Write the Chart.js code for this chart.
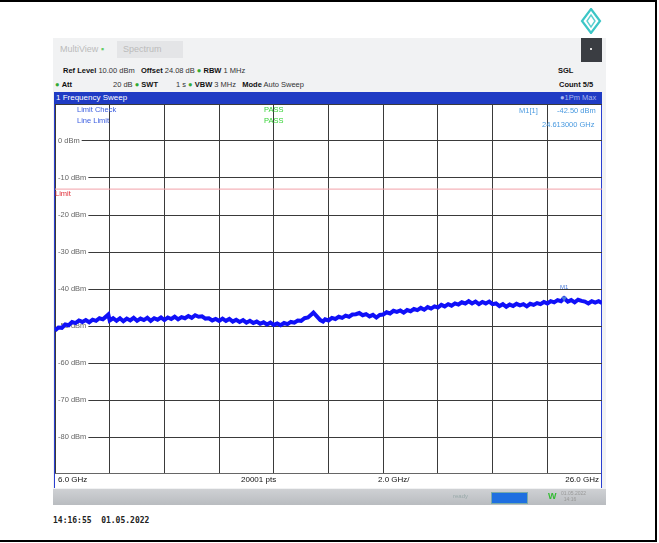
<!DOCTYPE html>
<html>
<head>
<meta charset="utf-8">
<script src="https://cdn.jsdelivr.net/npm/chart.js@4.4.1/dist/chart.umd.min.js"></script>
<style>
  html, body { margin: 0; padding: 0; background: #fff; }
  body { width: 659px; height: 543px; position: relative; overflow: hidden; font-family: "Liberation Sans", Arial, sans-serif; }
  .frame { position: absolute; left: -2px; top: 0; width: 657px; height: 538px; border-top: 2px solid #000; border-right: 2px solid #000; border-bottom: 2px solid #000; }
  .screen { position: absolute; left: 53px; top: 38px; width: 553px; height: 467px; background: #f1f2f3; }
  .abs { position: absolute; white-space: nowrap; }
  .tab { color: #bbb; font-size: 9px; }
  .info { font-size: 7.5px; color: #333; }
  .info b { font-weight: bold; color: #111; }
  .dot { color: #3a3; }
  .bar { position: absolute; left: 54px; top: 92px; width: 548px; height: 12px; background: #1f3bc4; }
  .plotbox { position: absolute; left: 54px; top: 104px; width: 546px; height: 383px; border-left: 1px solid #2a3fd0; border-right: 1px solid #2a3fd0; border-bottom: 1px solid #2a3fd0; background: #fff; }
  #wrap { position: absolute; left: 55px; top: 104px; width: 547px; height: 370px; }
  .btm { position: absolute; left: 55px; top: 473px; width: 546px; height: 14px; border-top: 1px solid #666; background: #fff; font-size: 8px; color: #111; }
  .status { position: absolute; left: 53px; top: 489px; width: 553px; height: 16px; background: linear-gradient(#cfd1d4, #b9bcc0); }
</style>
</head>
<body>
<div class="frame"></div>
<div class="screen"></div>

<svg class="abs" style="left:580px;top:8px" width="22" height="26" viewBox="0 0 22 26">
  <path d="M11 1 L20 13 L11 25 L2 13 Z" fill="none" stroke="#3cc6c6" stroke-width="2.2"/>
  <path d="M11 7 L15 13 L11 19 L7 13 Z" fill="none" stroke="#5ad0d0" stroke-width="1.4"/>
</svg>

<div class="abs tab" style="left:60px;top:44px;">MultiView <span style="color:#6c6">&#9642;</span></div>
<div class="abs" style="left:117px;top:41px;width:66px;height:17px;background:#e4e5e7;"></div>
<div class="abs tab" style="left:123px;top:44px;">Spectrum</div>
<div class="abs" style="left:581px;top:38px;width:21px;height:24px;background:#3a3d42;"></div>
<div class="abs" style="left:590px;top:48px;width:2px;height:2px;background:#ddd;"></div>

<div class="abs info" style="left:63px;top:66px;"><b>Ref Level</b> 10.00 dBm &nbsp;&nbsp;<b>Offset</b> 24.08 dB <span class="dot">&#9679;</span> <b>RBW</b> 1 MHz</div>
<div class="abs info" style="left:558px;top:66px;"><b>SGL</b></div>
<div class="abs info" style="left:55px;top:80px;"><span class="dot">&#9679;</span> <b>Att</b></div>
<div class="abs info" style="left:113px;top:80px;">20 dB <span class="dot">&#9679;</span> <b>SWT</b></div>
<div class="abs info" style="left:176px;top:80px;">1 s <span class="dot">&#9679;</span> <b>VBW</b> 3 MHz &nbsp;&nbsp;<b>Mode</b> Auto Sweep</div>
<div class="abs info" style="left:559px;top:80px;"><b>Count 5/5</b></div>

<div class="bar"></div>
<div class="abs" style="left:56px;top:93px;font-size:8px;color:#fff;">1 Frequency Sweep</div>
<div class="abs" style="left:560px;top:93px;font-size:7.5px;color:#a9b8f0;">&#9679;1Pm Max</div>

<div class="plotbox"></div>
<div id="wrap"><canvas id="c"></canvas></div>

<div class="abs" style="left:77px;top:105px;font-size:7.5px;color:#3b5de0;">Limit Check</div>
<div class="abs" style="left:77px;top:116px;font-size:7.5px;color:#3b5de0;">Line Limit</div>
<div class="abs" style="left:264px;top:105px;font-size:7.5px;color:#36d336;">PASS</div>
<div class="abs" style="left:264px;top:116px;font-size:7.5px;color:#36d336;">PASS</div>
<div class="abs" style="left:519px;top:106px;font-size:7.5px;color:#4a9ae0;">M1[1]</div>
<div class="abs" style="left:557px;top:106px;font-size:7.5px;color:#4a9ae0;">-42.50 dBm</div>
<div class="abs" style="left:542px;top:120px;font-size:7.5px;color:#4a9ae0;">24.613000 GHz</div>

<div class="btm">
  <span class="abs" style="left:3px;top:1px;">6.0 GHz</span>
  <span class="abs" style="left:186px;top:1px;">20001 pts</span>
  <span class="abs" style="left:323px;top:1px;">2.0 GHz/</span>
  <span class="abs" style="right:2px;top:1px;">26.0 GHz</span>
</div>
<div class="status"></div>
<div class="abs" style="left:453px;top:493px;font-size:6px;color:#9aa;">ready</div>
<div class="abs" style="left:491px;top:492px;width:35px;height:10px;background:#1e6fe0;border:1px solid #7aa;"></div>
<div class="abs" style="left:548px;top:491px;font-size:9px;color:#3b3;font-weight:bold;">W</div>
<div class="abs" style="left:561px;top:490px;font-size:5px;color:#999;line-height:6px;">01.05.2022<br>&nbsp;&nbsp;14:16</div>

<div class="abs" style="left:53px;top:516px;font-family:'DejaVu Sans Mono',monospace;font-size:8px;font-weight:bold;color:#222;">14:16:55&nbsp;&nbsp;01.05.2022</div>

<script>
// trace, GHz / dBm
const freqs = [6.0, 6.125, 6.25, 6.375, 6.5, 6.625, 6.75, 6.875, 7.0, 7.125,
  7.25, 7.375, 7.5, 7.625, 7.75, 7.875, 7.95, 8.0, 8.125, 8.25,
  8.375, 8.5, 8.625, 8.75, 8.875, 9.0, 9.125, 9.25, 9.375, 9.5,
  9.625, 9.75, 9.875, 10.0, 10.125, 10.25, 10.375, 10.5, 10.625, 10.75,
  10.875, 11.0, 11.125, 11.25, 11.375, 11.5, 11.625, 11.75, 11.875, 12.0,
  12.125, 12.25, 12.375, 12.5, 12.625, 12.75, 12.875, 13.0, 13.125, 13.25,
  13.375, 13.5, 13.625, 13.75, 13.875, 14.0, 14.125, 14.25, 14.375, 14.5,
  14.625, 14.75, 14.875, 15.0, 15.125, 15.25, 15.375, 15.45, 15.55, 15.7,
  15.8, 15.875, 16.0, 16.125, 16.25, 16.375, 16.5, 16.625, 16.75, 16.875,
  17.0, 17.125, 17.25, 17.375, 17.5, 17.625, 17.75, 17.875, 18.0, 18.125,
  18.25, 18.375, 18.5, 18.625, 18.75, 18.875, 19.0, 19.125, 19.25, 19.375,
  19.5, 19.625, 19.75, 19.875, 20.0, 20.125, 20.25, 20.375, 20.5, 20.625,
  20.75, 20.875, 21.0, 21.125, 21.25, 21.375, 21.5, 21.625, 21.75, 21.875,
  22.0, 22.125, 22.25, 22.375, 22.5, 22.625, 22.75, 22.875, 23.0, 23.125,
  23.25, 23.375, 23.5, 23.625, 23.75, 23.875, 24.0, 24.125, 24.25, 24.375,
  24.5, 24.613, 24.75, 24.875, 25.0, 25.125, 25.25, 25.375, 25.5, 25.625,
  25.75, 25.875, 26.0];
const levels = [-51.2, -50.4, -50.5, -49.6, -49.8, -48.9, -49.2, -48.5, -48.9, -48.4,
  -49.0, -48.3, -48.6, -47.9, -48.2, -47.4, -46.9, -48.5, -47.9, -48.6,
  -47.9, -48.7, -48.0, -48.5, -47.8, -48.6, -48.0, -48.4, -47.8, -48.6,
  -47.9, -48.3, -47.7, -48.4, -47.7, -48.1, -47.5, -48.2, -47.6, -47.9,
  -47.3, -47.8, -47.1, -47.5, -47.4, -48.0, -47.9, -48.5, -48.1, -48.6,
  -48.0, -48.6, -48.1, -48.8, -48.3, -48.9, -48.4, -49.1, -48.6, -49.2,
  -48.8, -49.4, -49.0, -49.6, -49.1, -49.7, -49.3, -49.8, -49.2, -49.5,
  -48.9, -49.1, -48.5, -48.6, -47.9, -47.7, -46.9, -46.4, -47.2, -48.4,
  -48.8, -48.2, -48.5, -47.8, -48.1, -47.5, -47.8, -47.2, -47.5, -46.9,
  -46.8, -46.5, -47.1, -46.8, -47.4, -47.0, -47.7, -47.0, -46.9, -46.3,
  -46.6, -45.9, -46.2, -45.8, -46.4, -45.7, -46.0, -45.4, -45.7, -45.1,
  -45.6, -44.9, -45.3, -44.7, -45.0, -44.3, -44.7, -44.1, -44.5, -43.9,
  -44.2, -43.6, -43.9, -43.3, -43.9, -43.4, -44.1, -43.5, -43.9, -43.4,
  -44.1, -43.9, -44.6, -44.1, -44.8, -44.2, -44.6, -44.0, -44.4, -44.1,
  -44.7, -44.0, -44.3, -43.8, -44.1, -43.5, -43.9, -43.3, -43.6, -43.0,
  -43.3, -42.5, -43.4, -43.0, -43.6, -42.9, -43.2, -43.4, -43.9, -43.3,
  -43.7, -43.3, -43.8];
const limitLevel = -13;
const marker = { freq: 24.613, level: -42.5, name: 'M1' };
const yTicks = [0, -10, -20, -30, -40, -50, -60, -70, -80];

const labelPlugin = {
  id: 'dbmLabels',
  beforeDatasetsDraw(chart) {
    const { ctx, chartArea, scales } = chart;
    ctx.save();
    ctx.font = '7.5px "Liberation Sans", Arial, sans-serif';
    ctx.textBaseline = 'middle';
    yTicks.forEach(v => {
      const y = scales.y.getPixelForValue(v);
      const txt = v + ' dBm';
      const w = ctx.measureText(txt).width;
      ctx.fillStyle = '#fff';
      ctx.fillRect(chartArea.left + 1, y - 4, w + 4, 8);
      ctx.fillStyle = '#666';
      ctx.fillText(txt, chartArea.left + 3, y);
    });
    const ly = scales.y.getPixelForValue(limitLevel);
    ctx.fillStyle = '#e0303a';
    ctx.fillText('Limit', chartArea.left, ly + 5);
    ctx.restore();
  },
  afterDatasetsDraw(chart) {
    const { ctx, scales } = chart;
    const x = scales.x.getPixelForValue(marker.freq);
    const y = scales.y.getPixelForValue(marker.level);
    ctx.save();
    ctx.font = '6px "Liberation Sans", Arial, sans-serif';
    ctx.fillStyle = '#4a7ad8';
    ctx.textAlign = 'center';
    ctx.fillText(marker.name, x, y - 9);
    ctx.restore();
  }
};

new Chart(document.getElementById('c'), {
  type: 'line',
  data: {
    datasets: [
      {
        data: [{ x: marker.freq, y: marker.level }],
        showLine: false,
        pointStyle: 'triangle',
        rotation: 180,
        pointRadius: 2.5,
        backgroundColor: '#4a7ad8',
        borderColor: '#4a7ad8'
      },
      {
        data: freqs.map((f, i) => ({ x: f, y: levels[i] })),
        borderColor: '#1010f8',
        borderWidth: 4,
        pointRadius: 0,
        tension: 0
      },
      {
        data: [{ x: 6, y: limitLevel }, { x: 26, y: limitLevel }],
        borderColor: '#f2a0a8',
        borderWidth: 1,
        pointRadius: 0
      }
    ]
  },
  options: {
    responsive: true,
    maintainAspectRatio: false,
    animation: false,
    layout: { padding: 0, autoPadding: false },
    plugins: { legend: { display: false }, tooltip: { enabled: false } },
    scales: {
      x: {
        type: 'linear', min: 6, max: 26,
        ticks: { display: false, stepSize: 2 },
        grid: { color: '#3a3a3a', lineWidth: 1, drawTicks: false },
        border: { display: false }
      },
      y: {
        min: -90, max: 10,
        ticks: { display: false, stepSize: 10 },
        grid: { color: '#3a3a3a', lineWidth: 1, drawTicks: false },
        border: { display: false }
      }
    }
  },
  plugins: [labelPlugin]
});
</script>
</body>
</html>
